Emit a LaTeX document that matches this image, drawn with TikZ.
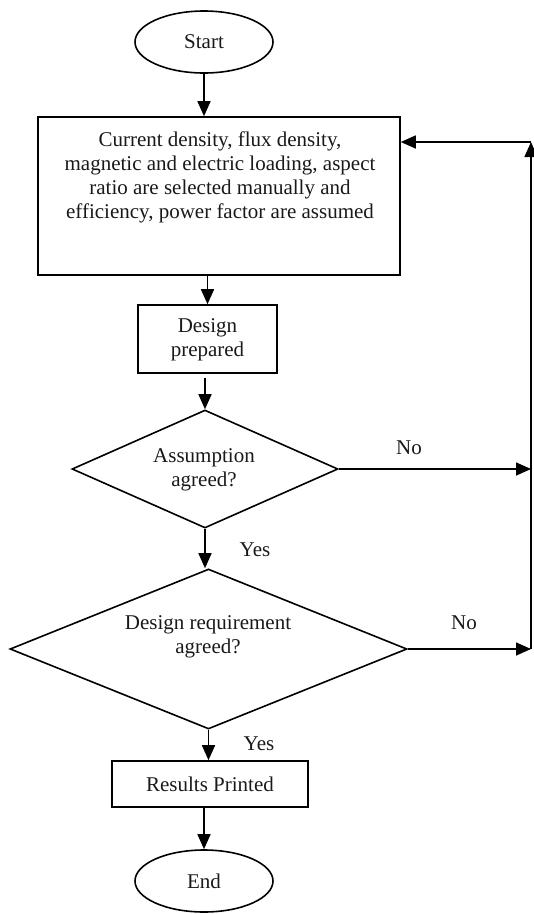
\documentclass[tikz,border=0pt]{standalone}
\usepackage{fontspec}
\setmainfont{Liberation Serif}
\usetikzlibrary{shapes.geometric,arrows.meta}
\begin{document}
\begin{tikzpicture}[x=1pt,y=-1pt,
  every node/.style={font=\fontsize{21}{24}\selectfont, text=black!90},
  shapeline/.style={draw=black, line width=1.6pt},
  term/.style={shapeline, ellipse, minimum width=138pt, minimum height=62pt, inner sep=0pt},
  procbox/.style={shapeline, rectangle, inner sep=0pt},
  decision/.style={shapeline, diamond, inner sep=0pt},
  flow/.style={draw=black, line width=1.6pt, -{Triangle[length=15pt,width=13pt]}},
  lab/.style={inner sep=0pt}
]
\useasboundingbox (0,0) rectangle (534,914);

\node[term] (start) at (204,42) {Start};
\node[procbox, minimum width=362pt, minimum height=158pt] (b1) at (219,196) {};
\node[lab, align=center] (b1t) at (220,177) {Current density, flux density,\\magnetic and electric loading, aspect\\ratio are selected manually and\\efficiency, power factor are assumed};
\node[procbox, minimum width=139pt, minimum height=68pt] (des) at (207.5,339) {};
\begin{scope}
  \clip (139,306) rectangle (276,361);
  \node[lab, align=center] (dest) at (207.5,340) {Design\\prepared};
\end{scope}
\node[decision, minimum width=266pt, minimum height=118pt] (d1) at (205,469) {};
\node[lab, align=center] (d1t) at (204,470) {Assumption\\agreed?};
\node[decision, minimum width=397pt, minimum height=160pt] (d2) at (208.5,649) {};
\node[lab, align=center] (d2t) at (208,637) {Design requirement\\agreed?};
\node[procbox, minimum width=196pt, minimum height=46pt] (res) at (210,784) {Results Printed};
\node[term] (end) at (204,881) {End};

\coordinate (c1) at (531,142);
\coordinate (c2) at (d1.east -| c1);
\coordinate (c3) at (d2.east -| c1);

\draw[flow] (start.south) -- (start.south |- b1.north);
\draw[flow] (b1.south -| des.north) -- (des.north);
\draw[flow, shorten <=4pt] (des.south -| d1.north) -- (d1.north);
\draw[flow] (d1.south) -- (d1.south |- d2.north);
\draw[flow] (d2.south) -- (d2.south |- res.north);
\draw[flow] (res.south -| end.north) -- (end.north);

\draw[flow] (d1.east) -- (c2);
\draw[flow] (d2.east) -- (c3);
\draw[flow] (c3) -- (c1);
\draw[flow] (c1) -- (c1 -| b1.east);

\node[lab] (no1) at (409,448) {No};
\node[lab] (no2) at (464,623) {No};
\node[lab] (yes1) at (255,550) {Yes};
\node[lab] (yes2) at (259,744) {Yes};
\end{tikzpicture}
\end{document}
